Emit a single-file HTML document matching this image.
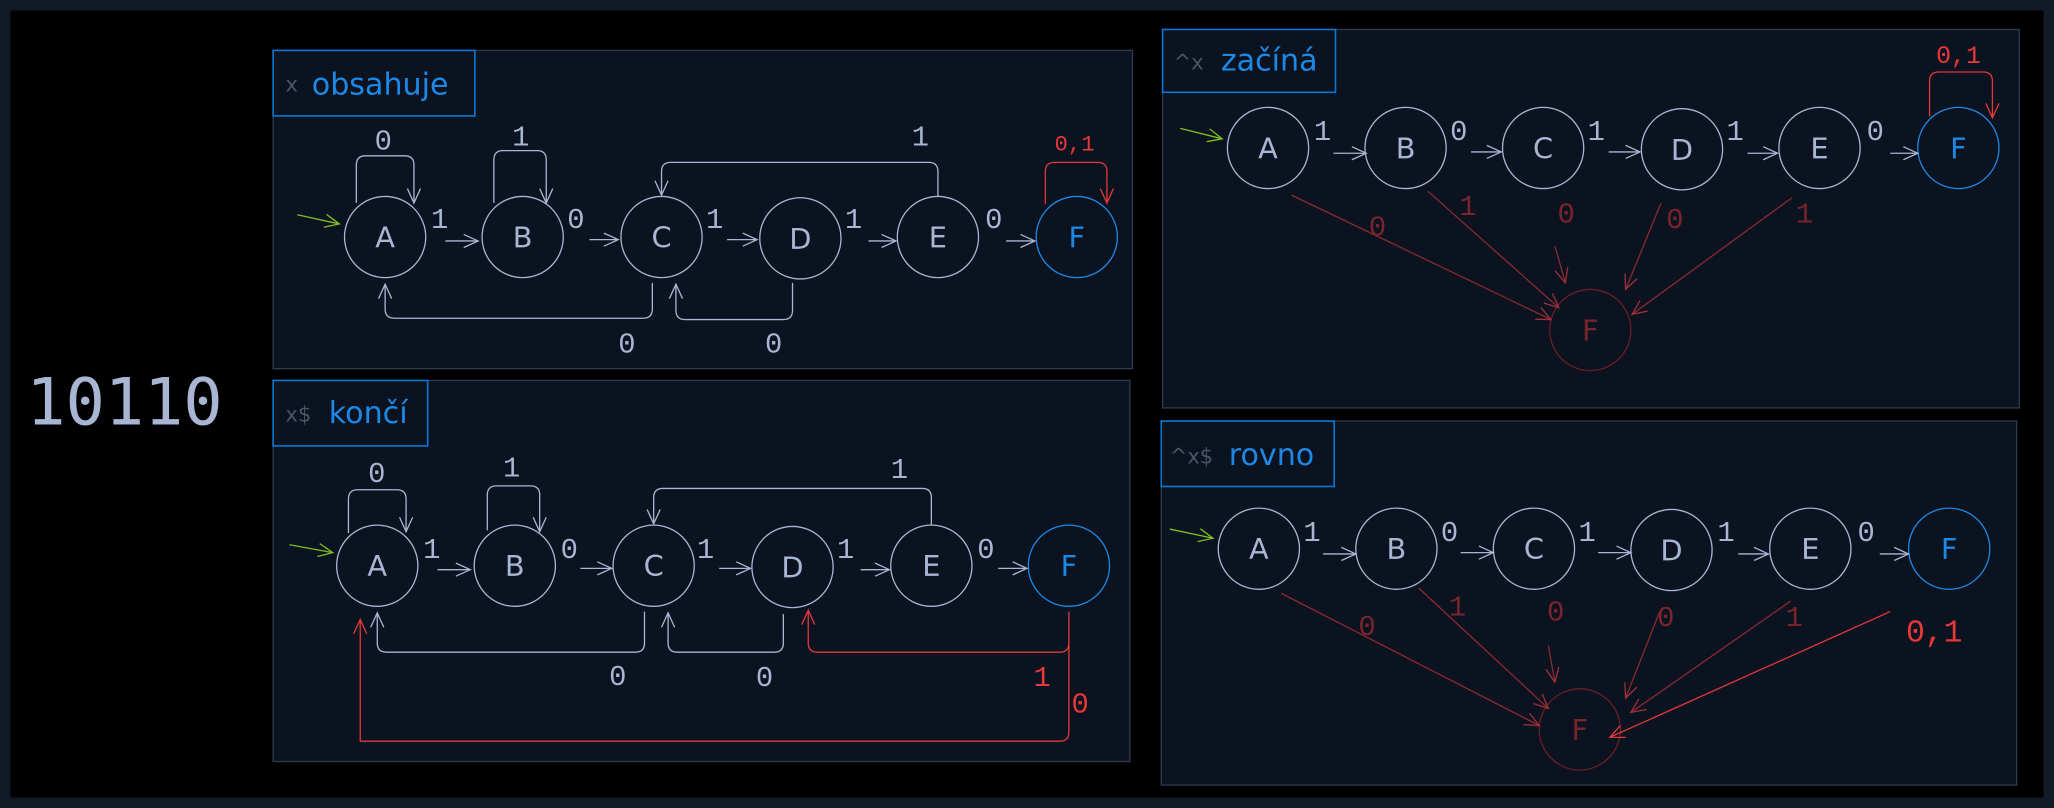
<!DOCTYPE html>
<html><head><meta charset="utf-8"><style>
html,body{margin:0;padding:0;background:#000;}
svg{display:block}
.n{fill:none;stroke:#a9b6d3;stroke-width:1}
.l{fill:none;stroke:#a9b6d3;stroke-width:1}
.t{font-family:"Liberation Mono","DejaVu Sans Mono",monospace;fill:#a9b6d3;font-size:22px}
.nt{font-family:"DejaVu Sans","Liberation Sans",sans-serif;fill:#a9b6d3;font-size:22px;text-anchor:middle}
.r{fill:none;stroke:#e03a3a;stroke-width:1}
.dr{fill:none;stroke:#8a2a30;stroke-width:1}
.rt{font-family:"Liberation Mono","DejaVu Sans Mono",monospace;fill:#e83838;font-size:22px}
.drt{font-family:"Liberation Mono","DejaVu Sans Mono",monospace;fill:#7a252b;font-size:22px}
.panel{fill:#0b1220;stroke:#2e3c50;stroke-width:1}
.tb{fill:none;stroke:#0a78d6;stroke-width:1.2}
.tt{font-family:"DejaVu Sans","Liberation Sans",sans-serif;fill:#1e88e5;font-size:23px}
.tg{font-family:"DejaVu Sans","Liberation Sans",sans-serif;fill:#4a5568;font-size:16px}
</style></head><body>
<svg width="2054" height="808" viewBox="0 0 1568 617" preserveAspectRatio="none" xmlns="http://www.w3.org/2000/svg">
<defs>
<marker id="a" markerWidth="14" markerHeight="12" refX="12" refY="6" orient="auto" markerUnits="userSpaceOnUse"><path d="M1,1 L12,6 L1,11" fill="none" stroke="#a9b6d3" stroke-width="1"/></marker>
<marker id="ar" markerWidth="14" markerHeight="12" refX="12" refY="6" orient="auto" markerUnits="userSpaceOnUse"><path d="M1,1 L12,6 L1,11" fill="none" stroke="#e03a3a" stroke-width="1"/></marker>
<marker id="ad" markerWidth="14" markerHeight="12" refX="12" refY="6" orient="auto" markerUnits="userSpaceOnUse"><path d="M1,1 L12,6 L1,11" fill="none" stroke="#a03038" stroke-width="1"/></marker>
<marker id="ag" markerWidth="14" markerHeight="12" refX="12" refY="6" orient="auto" markerUnits="userSpaceOnUse"><path d="M1,1 L12,6 L1,11" fill="none" stroke="#7fbf1e" stroke-width="1"/></marker>
</defs>
<rect x="0" y="0" width="1568" height="617" fill="#111a26"/>
<rect x="8" y="8" width="1552" height="601" fill="#000"/>
<text x="20" y="324" font-family="DejaVu Sans Mono,Liberation Mono,monospace" font-size="50" fill="#a9b6d3" textLength="150">10110</text>

<!-- obsahuje -->
<rect class="panel" x="208.5" y="38.5" width="656" height="243"/>
<rect class="tb" x="208.5" y="38.5" width="154" height="50"/>
<text class="tg" x="218" y="70">x</text><text class="tt" x="238" y="72">obsahuje</text>
<g>
<line x1="227" y1="164" x2="259" y2="171" stroke="#7fbf1e" marker-end="url(#ag)"/>
<circle class="n" cx="294" cy="181" r="31"/><text class="nt" x="294" y="189">A</text>
<circle class="n" cx="399" cy="181" r="31"/><text class="nt" x="399" y="189">B</text>
<circle class="n" cx="505" cy="181" r="31"/><text class="nt" x="505" y="189">C</text>
<circle class="n" cx="611" cy="182" r="31"/><text class="nt" x="611" y="190">D</text>
<circle class="n" cx="716" cy="181" r="31"/><text class="nt" x="716" y="189">E</text>
<circle fill="none" stroke="#1e88e5" cx="822" cy="181" r="31"/><text class="nt" x="822" y="189" style="fill:#1e88e5">F</text>
<text class="t" x="329" y="174">1</text><line class="l" x1="340" y1="184" x2="365" y2="184" marker-end="url(#a)"/>
<text class="t" x="433" y="174">0</text><line class="l" x1="450" y1="183" x2="472" y2="183" marker-end="url(#a)"/>
<text class="t" x="539" y="174">1</text><line class="l" x1="555" y1="183" x2="578" y2="183" marker-end="url(#a)"/>
<text class="t" x="645" y="174">1</text><line class="l" x1="663" y1="184" x2="684" y2="184" marker-end="url(#a)"/>
<text class="t" x="752" y="174">0</text><line class="l" x1="768" y1="184" x2="790" y2="184" marker-end="url(#a)"/>
<path class="l" d="M272,155 V126 Q272,119 279,119 H309 Q316,119 316,126 V155" marker-end="url(#a)"/><text class="t" x="286" y="114">0</text>
<path class="l" d="M377,155 V122 Q377,115 384,115 H410 Q417,115 417,122 V155" marker-end="url(#a)"/><text class="t" x="391" y="111">1</text>
<path class="l" d="M716,150 V131 Q716,124 709,124 H512 Q505,124 505,131 V149" marker-end="url(#a)"/><text class="t" x="696" y="111">1</text>
<path class="l" d="M498,216 V236 Q498,243 491,243 H301 Q294,243 294,236 V217" marker-end="url(#a)"/><text class="t" x="472" y="269">0</text>
<path class="l" d="M605,216 V237 Q605,244 598,244 H523 Q516,244 516,237 V217" marker-end="url(#a)"/><text class="t" x="584" y="269">0</text>
<path class="r" d="M798,156 V131 Q798,124 805,124 H838 Q845,124 845,131 V155" marker-end="url(#ar)"/><text class="rt" x="805" y="115" style="font-size:17px">0,1</text>
</g>

<!-- končí -->
<rect class="panel" x="208.5" y="290.5" width="654" height="291"/>
<rect class="tb" x="208.5" y="290.5" width="118" height="50"/>
<text class="tg" x="218" y="322">x$</text><text class="tt" x="251" y="323">končí</text>
<g>
<line x1="221" y1="416" x2="254" y2="422" stroke="#7fbf1e" marker-end="url(#ag)"/>
<circle class="n" cx="288" cy="432" r="31"/><text class="nt" x="288" y="440">A</text>
<circle class="n" cx="393" cy="432" r="31"/><text class="nt" x="393" y="440">B</text>
<circle class="n" cx="499" cy="432" r="31"/><text class="nt" x="499" y="440">C</text>
<circle class="n" cx="605" cy="433" r="31"/><text class="nt" x="605" y="441">D</text>
<circle class="n" cx="711" cy="432" r="31"/><text class="nt" x="711" y="440">E</text>
<circle fill="none" stroke="#1e88e5" cx="816" cy="432" r="31"/><text class="nt" x="816" y="440" style="fill:#1e88e5">F</text>
<text class="t" x="323" y="426">1</text><line class="l" x1="334" y1="435" x2="359" y2="435" marker-end="url(#a)"/>
<text class="t" x="428" y="426">0</text><line class="l" x1="443" y1="434" x2="467" y2="434" marker-end="url(#a)"/>
<text class="t" x="532" y="426">1</text><line class="l" x1="549" y1="434" x2="573" y2="434" marker-end="url(#a)"/>
<text class="t" x="639" y="426">1</text><line class="l" x1="657" y1="435" x2="679" y2="435" marker-end="url(#a)"/>
<text class="t" x="746" y="426">0</text><line class="l" x1="762" y1="434" x2="784" y2="434" marker-end="url(#a)"/>
<path class="l" d="M266,407 V381 Q266,374 273,374 H303 Q310,374 310,381 V406" marker-end="url(#a)"/><text class="t" x="281" y="368">0</text>
<path class="l" d="M372,405 V378 Q372,371 379,371 H405 Q412,371 412,378 V406" marker-end="url(#a)"/><text class="t" x="384" y="364">1</text>
<path class="l" d="M711,401 V380 Q711,373 704,373 H506 Q499,373 499,380 V400" marker-end="url(#a)"/><text class="t" x="680" y="365">1</text>
<path class="l" d="M492,467 V491 Q492,498 485,498 H295 Q288,498 288,491 V468" marker-end="url(#a)"/><text class="t" x="465" y="523">0</text>
<path class="l" d="M598,469 V491 Q598,498 591,498 H517 Q510,498 510,491 V468" marker-end="url(#a)"/><text class="t" x="577" y="524">0</text>
<path class="r" d="M816,467 V491 Q816,498 809,498 H624 Q617,498 617,491 V466" marker-end="url(#ar)"/><text class="rt" x="789" y="524">1</text>
<path class="r" d="M816,491 V559 Q816,566 809,566 H275 V473" marker-end="url(#ar)"/><text class="rt" x="818" y="544">0</text>
</g>

<!-- začíná -->
<rect class="panel" x="887.5" y="22.5" width="654" height="289"/>
<rect class="tb" x="887.5" y="22.5" width="132" height="48"/>
<text class="tg" x="896" y="53">^x</text><text class="tt" x="932" y="54">začíná</text>
<g>
<line x1="901" y1="98" x2="933" y2="106" stroke="#7fbf1e" marker-end="url(#ag)"/>
<circle class="n" cx="968" cy="113" r="31"/><text class="nt" x="968" y="121">A</text>
<circle class="n" cx="1073" cy="113" r="31"/><text class="nt" x="1073" y="121">B</text>
<circle class="n" cx="1178" cy="113" r="31"/><text class="nt" x="1178" y="121">C</text>
<circle class="n" cx="1284" cy="114" r="31"/><text class="nt" x="1284" y="122">D</text>
<circle class="n" cx="1389" cy="113" r="31"/><text class="nt" x="1389" y="121">E</text>
<circle fill="none" stroke="#1e88e5" cx="1495" cy="113" r="31"/><text class="nt" x="1495" y="121" style="fill:#1e88e5">F</text>
<text class="t" x="1003" y="107">1</text><line class="l" x1="1018" y1="117" x2="1043" y2="117" marker-end="url(#a)"/>
<text class="t" x="1107" y="107">0</text><line class="l" x1="1123" y1="116" x2="1146" y2="116" marker-end="url(#a)"/>
<text class="t" x="1212" y="107">1</text><line class="l" x1="1228" y1="116" x2="1252" y2="116" marker-end="url(#a)"/>
<text class="t" x="1318" y="107">1</text><line class="l" x1="1334" y1="117" x2="1357" y2="117" marker-end="url(#a)"/>
<text class="t" x="1425" y="107">0</text><line class="l" x1="1443" y1="117" x2="1464" y2="117" marker-end="url(#a)"/>
<path class="r" d="M1473,89 V62 Q1473,55 1480,55 H1514 Q1521,55 1521,62 V90" marker-end="url(#ar)"/><text class="rt" x="1478" y="48" style="font-size:19px">0,1</text>
<circle fill="none" stroke="#6b1f25" cx="1214" cy="252" r="31"/><text class="nt" x="1214" y="260" style="fill:#7a252b">F</text>
<line class="dr" x1="986" y1="149" x2="1184" y2="244" marker-end="url(#ad)"/>
<line class="dr" x1="1090" y1="146" x2="1190" y2="235" marker-end="url(#ad)"/>
<line class="dr" x1="1187" y1="188" x2="1195" y2="216" marker-end="url(#ad)"/>
<line class="dr" x1="1268" y1="155" x2="1241" y2="221" marker-end="url(#ad)"/>
<line class="dr" x1="1368" y1="151" x2="1246" y2="240" marker-end="url(#ad)"/>
<text class="drt" x="1045" y="180">0</text><text class="drt" x="1114" y="164">1</text><text class="drt" x="1189" y="170">0</text><text class="drt" x="1272" y="174">0</text><text class="drt" x="1371" y="170">1</text>
</g>

<!-- rovno -->
<rect class="panel" x="886.5" y="321.5" width="653" height="278"/>
<rect class="tb" x="886.5" y="321.5" width="132" height="50"/>
<text class="tg" x="893" y="354">^x$</text><text class="tt" x="938" y="355">rovno</text>
<g>
<line x1="893" y1="404" x2="926" y2="411" stroke="#7fbf1e" marker-end="url(#ag)"/>
<circle class="n" cx="961" cy="419" r="31"/><text class="nt" x="961" y="427">A</text>
<circle class="n" cx="1066" cy="419" r="31"/><text class="nt" x="1066" y="427">B</text>
<circle class="n" cx="1171" cy="419" r="31"/><text class="nt" x="1171" y="427">C</text>
<circle class="n" cx="1276" cy="420" r="31"/><text class="nt" x="1276" y="428">D</text>
<circle class="n" cx="1382" cy="419" r="31"/><text class="nt" x="1382" y="427">E</text>
<circle fill="none" stroke="#1e88e5" cx="1488" cy="419" r="31"/><text class="nt" x="1488" y="427" style="fill:#1e88e5">F</text>
<text class="t" x="995" y="413">1</text><line class="l" x1="1010" y1="423" x2="1035" y2="423" marker-end="url(#a)"/>
<text class="t" x="1100" y="413">0</text><line class="l" x1="1115" y1="422" x2="1140" y2="422" marker-end="url(#a)"/>
<text class="t" x="1205" y="413">1</text><line class="l" x1="1220" y1="422" x2="1245" y2="422" marker-end="url(#a)"/>
<text class="t" x="1311" y="413">1</text><line class="l" x1="1327" y1="423" x2="1350" y2="423" marker-end="url(#a)"/>
<text class="t" x="1418" y="413">0</text><line class="l" x1="1435" y1="423" x2="1457" y2="423" marker-end="url(#a)"/>
<circle fill="none" stroke="#6b1f25" cx="1206" cy="557" r="31"/><text class="nt" x="1206" y="565" style="fill:#7a252b">F</text>
<line class="dr" x1="978" y1="453" x2="1175" y2="554" marker-end="url(#ad)"/>
<line class="dr" x1="1083" y1="449" x2="1182" y2="541" marker-end="url(#ad)"/>
<line class="dr" x1="1182" y1="493" x2="1187" y2="521" marker-end="url(#ad)"/>
<line class="dr" x1="1267" y1="467" x2="1241" y2="533" marker-end="url(#ad)"/>
<line class="dr" x1="1367" y1="459" x2="1245" y2="544" marker-end="url(#ad)"/>
<line x1="1443" y1="467" x2="1229" y2="563" stroke="#e03a3a" marker-end="url(#ar)"/>
<text class="drt" x="1037" y="485">0</text><text class="drt" x="1106" y="470">1</text><text class="drt" x="1181" y="474">0</text><text class="drt" x="1265" y="478">0</text><text class="drt" x="1363" y="478">1</text>
<text class="rt" x="1455" y="490" style="font-size:24px">0,1</text>
</g>
</svg>
</body></html>
